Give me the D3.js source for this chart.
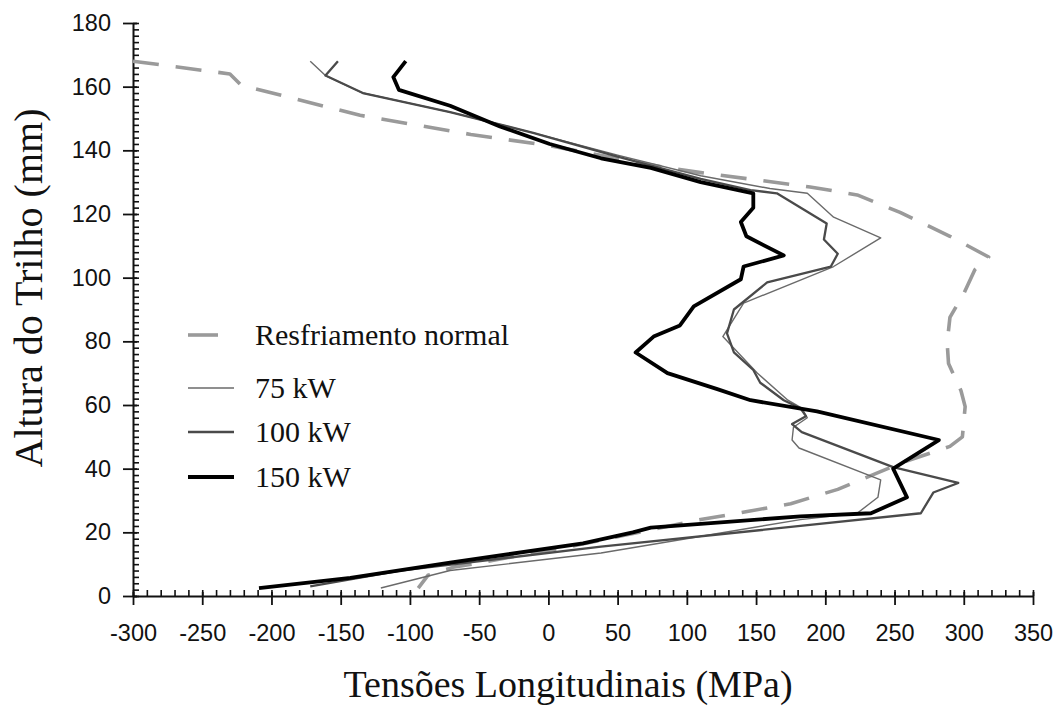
<!DOCTYPE html>
<html>
<head>
<meta charset="utf-8">
<script src="https://cdn.jsdelivr.net/npm/d3@7"></script>
<style>
  body { margin: 0; background: #fff; }
  .tick text { font-family: "Liberation Sans", Arial, sans-serif; font-size: 23.5px; fill: #111; }
  .title { font-family: "Liberation Serif", "Times New Roman", serif; fill: #111; }
</style>
</head>
<body>
<svg class="chart" width="1062" height="707"></svg>
<script>
// tensao (MPa) x altura (mm)
var normal_x = [-300, -230, -222, -136, -56, 0, 86, 110, 189, 223, 254, 290, 318, 308, 300, 290, 288, 289, 298, 301, 299, 290, 256, 209, 175, 137, 110, 54, 21, -49, -69, -87, -94];
var normal_y = [168, 164, 160.5, 151, 145, 141.5, 134.5, 133, 128.5, 126, 120.5, 113, 106.5, 102.5, 95, 87.5, 79.5, 73, 64.5, 59.5, 50, 47, 42, 33.5, 29, 26, 24, 19, 16, 10.5, 9, 6.5, 2.5];

var kw75_x = [-172, -161, -134, -71, -11, 50, 110, 160, 187, 206, 240, 206, 141, 126, 151, 173, 183, 187, 177, 176, 181, 240, 238, 223, 182, 38, -71, -121];
var kw75_y = [168, 163.5, 158, 152, 145.5, 138.5, 132, 128, 126.5, 119, 112.5, 103.5, 92, 81.5, 70, 61.5, 59, 56, 53, 49, 46.5, 36.5, 31, 26, 24, 13.5, 8, 2.5];

var kw100_x = [-152, -161, -134, -71, -11, 50, 110, 146, 165, 201, 199, 209, 204, 158, 134, 129, 134, 148, 153, 170, 182, 186, 176, 183, 249, 296, 278, 269, 182, 38, -107, -172];
var kw100_y = [168, 163.5, 158, 152, 145.5, 138, 131, 127.5, 126.5, 117, 112, 107.5, 103.5, 98.5, 90, 82.5, 76.5, 71, 67, 61.5, 59, 56.5, 54, 51.5, 40.5, 35.5, 32.5, 26, 22, 15.5, 8, 3];

var kw150_x = [-103, -112, -108, -71, -35, 1, 38, 74, 110, 148, 148, 139, 143, 170, 141, 139, 105, 95, 76, 63, 86, 122, 146, 194, 282, 249, 259, 233, 182, 74, 61, 25, -71, -143, -209];
var kw150_y = [168, 163, 159, 154, 147.5, 142, 137.5, 134.5, 130, 126.5, 122, 117.5, 113, 107, 103.5, 99.5, 91, 85, 81.5, 76.5, 70, 65, 61.5, 58, 49, 40, 31, 26, 25, 21.5, 20, 16.5, 10.5, 5.7, 2.5];

var series_names = ["Resfriamento normal", "75 kW", "100 kW", "150 kW"];
var x_ticks = [-300, -250, -200, -150, -100, -50, 0, 50, 100, 150, 200, 250, 300, 350];
var y_ticks = [0, 20, 40, 60, 80, 100, 120, 140, 160, 180];

var svg = d3.select(".chart");

var x = d3.scaleLinear().domain([-300, 350]).range([133, 1033]);
var y = d3.scaleLinear().domain([0, 180]).range([596, 23]);

var styles = [
  { color: "#9a9a9a", width: 3.6, dash: "26,17" },
  { color: "#6a6a6a", width: 1.4, dash: null },
  { color: "#4a4a4a", width: 2.3, dash: null },
  { color: "#000000", width: 3.8, dash: null }
];

var series = [
  d3.zip(normal_x, normal_y),
  d3.zip(kw75_x, kw75_y),
  d3.zip(kw100_x, kw100_y),
  d3.zip(kw150_x, kw150_y)
];

// minor ticks (inside)
svg.append("g")
    .attr("transform", "translate(0,596)")
    .call(d3.axisBottom(x).tickValues(d3.range(-300, 351, 10)).tickSize(-6).tickFormat(""))
    .call(function(g) { g.select(".domain").remove(); g.selectAll("line").attr("stroke", "#111").attr("stroke-width", 1.6); });

svg.append("g")
    .attr("transform", "translate(133,0)")
    .call(d3.axisLeft(y).tickValues(d3.range(0, 181, 2)).tickSize(-6).tickFormat(""))
    .call(function(g) { g.select(".domain").remove(); g.selectAll("line").attr("stroke", "#111").attr("stroke-width", 1.6); });

// major ticks + labels (plain hyphen for negatives, like the original)
svg.append("g")
    .attr("transform", "translate(0,596)")
    .call(d3.axisBottom(x).tickValues(x_ticks).tickSizeInner(9).tickSizeOuter(0).tickPadding(19)
      .tickFormat(function(d) { return String(d); }))
    .call(function(g) {
      g.select(".domain").attr("stroke", "#111").attr("stroke-width", 2);
      g.selectAll(".tick line").attr("y1", -4).attr("stroke", "#111").attr("stroke-width", 1.8);
    });

svg.append("g")
    .attr("transform", "translate(133,0)")
    .call(d3.axisLeft(y).tickValues(y_ticks).tickSizeInner(10).tickSizeOuter(0).tickPadding(12)
      .tickFormat(function(d) { return String(d); }))
    .call(function(g) {
      g.select(".domain").attr("stroke", "#111").attr("stroke-width", 2);
      g.selectAll(".tick line").attr("x1", 4).attr("stroke", "#111").attr("stroke-width", 1.8);
    });

var line = d3.line()
    .x(function(d) { return x(d[0]); })
    .y(function(d) { return y(d[1]); });

svg.append("g")
    .attr("class", "lines")
  .selectAll("path")
  .data(series)
  .enter().append("path")
    .attr("d", line)
    .attr("fill", "none")
    .attr("stroke", function(d, i) { return styles[i].color; })
    .attr("stroke-width", function(d, i) { return styles[i].width; })
    .attr("stroke-dasharray", function(d, i) { return styles[i].dash; })
    .attr("stroke-linejoin", "round");

// legend
var legend = svg.append("g")
    .attr("class", "legend")
  .selectAll("g")
  .data(series_names)
  .enter().append("g")
    .attr("transform", function(d, i) { return "translate(188," + [335, 388, 432, 477][i] + ")"; });

legend.append("line")
    .attr("x1", 0)
    .attr("x2", function(d, i) { return i == 0 ? 30 : 46; })
    .attr("y1", 0).attr("y2", 0)
    .attr("stroke", function(d, i) { return styles[i].color; })
    .attr("stroke-width", function(d, i) { return styles[i].width; });

legend.append("text")
    .attr("class", "title")
    .attr("x", 67)
    .attr("y", 10)
    .style("font-size", "30px")
    .text(function(d) { return d; });

// axis titles
svg.append("text")
    .attr("class", "title")
    .attr("x", 568)
    .attr("y", 697)
    .attr("text-anchor", "middle")
    .style("font-size", "38px")
    .text("Tensões Longitudinais (MPa)");

svg.append("text")
    .attr("class", "title")
    .attr("transform", "translate(42,288) rotate(-90)")
    .attr("text-anchor", "middle")
    .style("font-size", "40px")
    .text("Altura do Trilho (mm)");
</script>
</body>
</html>
